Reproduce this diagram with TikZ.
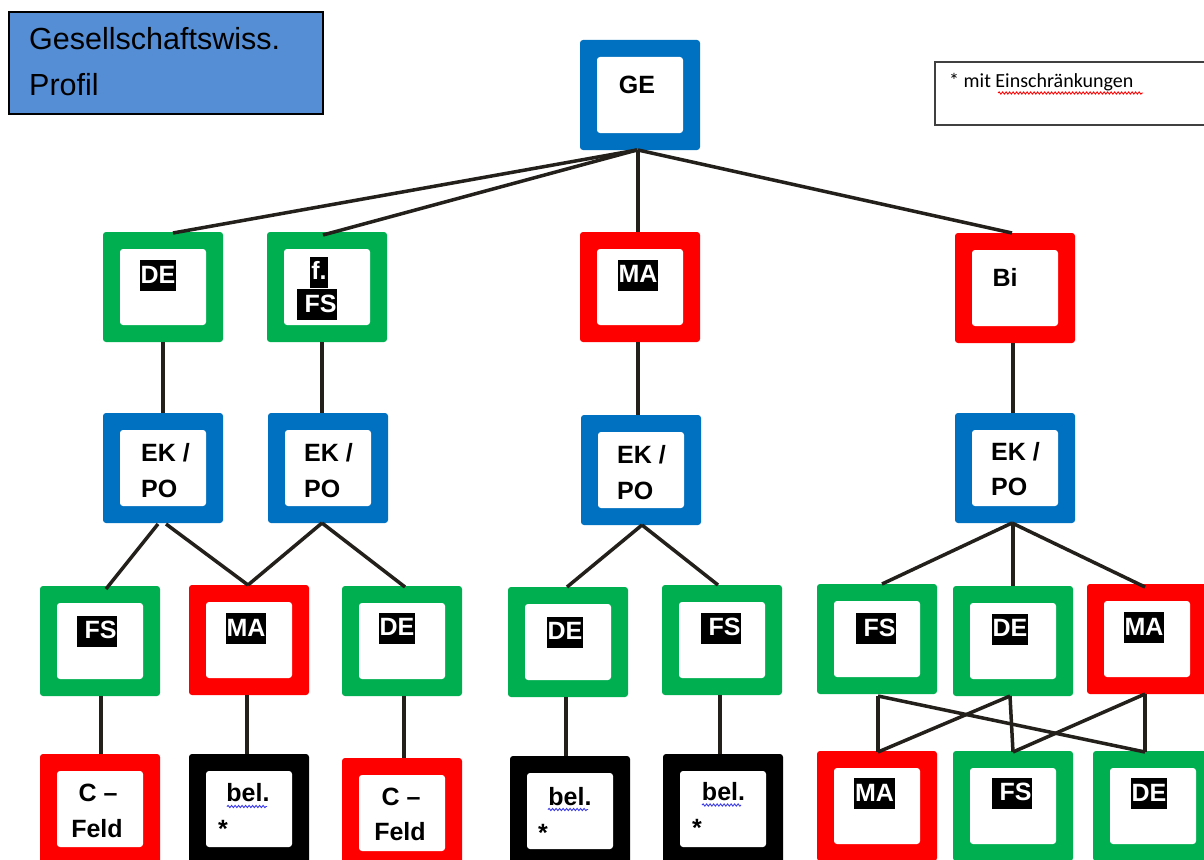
\documentclass[tikz,border=0pt]{standalone}
\usepackage{fontspec}
\setmainfont{Liberation Sans}
\newfontfamily\carlito{Carlito}
\usetikzlibrary{calc,decorations.pathmorphing}
\definecolor{bblue}{HTML}{0070C0}
\definecolor{bgreen}{HTML}{00B050}
\definecolor{bred}{HTML}{FF0000}
\definecolor{lblue}{HTML}{558ED5}
\definecolor{lnk}{RGB}{35,31,26}
\definecolor{notegray}{RGB}{64,64,64}
\definecolor{wavyblue}{RGB}{60,60,230}
\begin{document}
\begin{tikzpicture}[x=1pt,y=-1pt,
 bx/.style={rectangle, minimum width=120pt, minimum height=110pt, inner sep=0pt, outer sep=0pt,
   fill=#1, rounded corners=3pt,
   path picture={\fill[white] ([shift={(17pt,-17pt)}]path picture bounding box.north west)
     rectangle ([shift={(-17pt,17pt)}]path picture bounding box.south east);}},
 lbl/.style={font=\bfseries\fontsize{25}{30}\selectfont, inner sep=0pt},
 hl/.style={lbl, fill=black, text=white, text height=21pt, text depth=6pt, inner xsep=1pt, inner ysep=2pt},
 ln/.style={draw=lnk, line width=3.5pt},
 wavy/.style={draw=#1, line width=0.9pt, decorate, decoration={snake, amplitude=1.1pt, segment length=3.5pt}},
]
\useasboundingbox (0,0) rectangle (1204,859);
\fill[white] (0,0) rectangle (1204,859);

% title box
\node[draw=black, line width=2pt, fill=lblue, minimum width=314pt, minimum height=102pt, inner sep=0pt] (prof) at (166,63) {};
\node[font=\fontsize{30.5}{45}\selectfont, anchor=base west, inner sep=0pt] (prof-t1) at (29,50) {Gesellschaftswiss.};
\node[font=\fontsize{30.5}{45}\selectfont, anchor=base west, inner sep=0pt] (prof-t2) at (29,95) {Profil};

% note box
\node[draw=notegray, line width=1.5pt, minimum width=280pt, minimum height=63pt, inner sep=0pt] (note) at (1075,93.5) {};
\node[font=\carlito\fontsize{20}{24}\selectfont, anchor=base west, inner sep=0pt] (note-t) at (949,88) {* mit Einschränkungen};
\draw[wavy=red] (998,93) -- (1143,93);

% boxes
\node[bx=bblue]  (ge)    at (640,95) {};
\node[bx=bgreen] (de1)   at (163,287) {};
\node[bx=bgreen] (ff)    at (327,287) {};
\node[bx=bred]   (ma1)   at (640,287) {};
\node[bx=bred]   (bi)    at (1015,288) {};
\node[bx=bblue]  (ek1)   at (163,468) {};
\node[bx=bblue]  (ek2)   at (328,468) {};
\node[bx=bblue]  (ek3)   at (641,470) {};
\node[bx=bblue]  (ek4)   at (1015,468) {};
\node[bx=bgreen] (fs3a)  at (100,641) {};
\node[bx=bred]   (ma3a)  at (249,640) {};
\node[bx=bgreen] (de3a)  at (402,641) {};
\node[bx=bgreen] (de3b)  at (568,642) {};
\node[bx=bgreen] (fs3b)  at (722,640) {};
\node[bx=bgreen] (fs3c)  at (877,639) {};
\node[bx=bgreen] (de3c)  at (1013,641) {};
\node[bx=bred]   (ma3c)  at (1147,639) {};
\node[bx=bred]   (c4a)   at (100,809) {};
\node[bx=black]  (bel4a) at (249,809) {};
\node[bx=bred]   (c4b)   at (402,813) {};
\node[bx=black]  (bel4b) at (570,811) {};
\node[bx=black]  (bel4c) at (723,809) {};
\node[bx=bred]   (ma4)   at (877,806) {};
\node[bx=bgreen] (fs4)   at (1013,806) {};
\node[bx=bgreen] (de4)   at (1153,806) {};

% labels
\node[lbl] (t-ge) at (637,85) {GE};
\node[hl] (t-de1) at (158,275.5) {DE};
\node[hl] (t-ff1) at (319,272) {f.};
\node[hl] (t-ff2) at (317,304.5) {\ FS};
\node[hl] (t-ma1) at (638,275) {MA};
\node[lbl] (t-bi) at (1005,277) {Bi};

\node[lbl, anchor=west] (t-ek1a) at (141,453) {EK /};
\node[lbl, anchor=west] (t-ek1b) at (141,489) {PO};
\node[lbl, anchor=west] (t-ek2a) at (304,453) {EK /};
\node[lbl, anchor=west] (t-ek2b) at (304,489) {PO};
\node[lbl, anchor=west] (t-ek3a) at (617,455) {EK /};
\node[lbl, anchor=west] (t-ek3b) at (617,491) {PO};
\node[lbl, anchor=west] (t-ek4a) at (991,452) {EK /};
\node[lbl, anchor=west] (t-ek4b) at (991,487) {PO};

\node[hl] (t-fs3a) at (97,631) {\ FS};
\node[hl] (t-ma3a) at (246,628.5) {MA};
\node[hl] (t-de3a) at (397,628) {DE};
\node[hl] (t-de3b) at (565,632) {DE};
\node[hl] (t-fs3b) at (721,628) {\ FS};
\node[hl] (t-fs3c) at (876,628.5) {\ FS};
\node[hl] (t-de3c) at (1010,629) {DE};
\node[hl] (t-ma3c) at (1144,627.5) {MA};

\node[lbl] (t-c4a1) at (98,793) {C –};
\node[lbl] (t-c4a2) at (97,829) {Feld};
\node[lbl] (t-c4b1) at (401,797) {C –};
\node[lbl] (t-c4b2) at (400,832) {Feld};

\node[lbl] (t-bel4a) at (248,793) {bel.};
\draw[wavy=wavyblue] (227,806.5) -- (267,806.5);
\node[lbl, anchor=base] (s-bel4a) at (223,837) {*};
\node[lbl] (t-bel4b) at (570,797) {bel.};
\draw[wavy=wavyblue] (548,809.5) -- (588,809.5);
\node[lbl, anchor=base] (s-bel4b) at (543,841) {*};
\node[lbl] (t-bel4c) at (723.5,792) {bel.};
\draw[wavy=wavyblue] (702,805) -- (741,805);
\node[lbl, anchor=base] (s-bel4c) at (697,836) {*};

\node[hl] (t-ma4) at (874.5,793.5) {MA};
\node[hl] (t-fs4) at (1012,793) {\ FS};
\node[hl] (t-de4) at (1149,793.5) {DE};

% connectors
\draw[ln] ($(ge.south)+(-3,0)$) -- ($(de1.north)+(10,1)$);
\draw[ln] ($(ge.south)+(-3,0)$) -- ($(ff.north)+(-4,3)$);
\draw[ln] ($(ge.south)+(-2,0)$) -- ($(ma1.north)+(-2,0)$);
\draw[ln] ($(ge.south)+(-2,0)$) -- ($(bi.north)+(-3,0)$);

\draw[ln] (de1.south) -- (ek1.north);
\draw[ln] ($(ff.south)+(-5,0)$) -- ($(ek2.north)+(-6,0)$);
\draw[ln] ($(ma1.south)+(-2,0)$) -- ($(ek3.north)+(-3,0)$);
\draw[ln] ($(bi.south)+(-2,0)$) -- ($(ek4.north)+(-2,0)$);

\draw[ln] ($(ek1.south)+(-5,1)$) -- ($(fs3a.north)+(6,3)$);
\draw[ln] ($(ek1.south)+(3,1)$) -- ($(ma3a.north)+(-1,0)$);
\draw[ln] ($(ek2.south)+(-6,0)$) -- ($(ma3a.north)+(-1,0)$);
\draw[ln] ($(ek2.south)+(-6,0)$) -- ($(de3a.north)+(3,1)$);
\draw[ln] ($(ek3.south)+(1,0)$) -- ($(de3b.north)+(-1,0)$);
\draw[ln] ($(ek3.south)+(1,0)$) -- ($(fs3b.north)+(-4,0)$);
\draw[ln] ($(ek4.south)+(-3,0)$) -- ($(fs3c.north)+(5,0)$);
\draw[ln] ($(ek4.south)+(-2,0)$) -- (de3c.north);
\draw[ln] ($(ek4.south)+(-3,0)$) -- ($(ma3c.north)+(-2,3)$);

\draw[ln] ($(fs3a.south)+(1,0)$) -- ($(c4a.north)+(1,0)$);
\draw[ln] ($(ma3a.south)+(-2,0)$) -- ($(bel4a.north)+(-2,0)$);
\draw[ln] ($(de3a.south)+(2,0)$) -- ($(c4b.north)+(2,0)$);
\draw[ln] ($(de3b.south)+(-2,0)$) -- ($(bel4b.north)+(-4,0)$);
\draw[ln] ($(fs3b.south)+(-2,0)$) -- ($(bel4c.north)+(-3,0)$);

\draw[ln] ($(fs3c.south)+(1,2)$) -- ($(ma4.north)+(1,1)$);
\draw[ln] ($(fs3c.south)+(1,2)$) -- ($(de4.north)+(-8,1)$);
\draw[ln] ($(de3c.south)+(-3,0)$) -- ($(ma4.north)+(1,1)$);
\draw[ln] ($(de3c.south)+(-3,0)$) -- ($(fs4.north)+(0,1)$);
\draw[ln] ($(ma3c.south)+(-2,0)$) -- ($(fs4.north)+(0,1)$);
\draw[ln] ($(ma3c.south)+(-2,0)$) -- ($(de4.north)+(-8,1)$);
\end{tikzpicture}
\end{document}
